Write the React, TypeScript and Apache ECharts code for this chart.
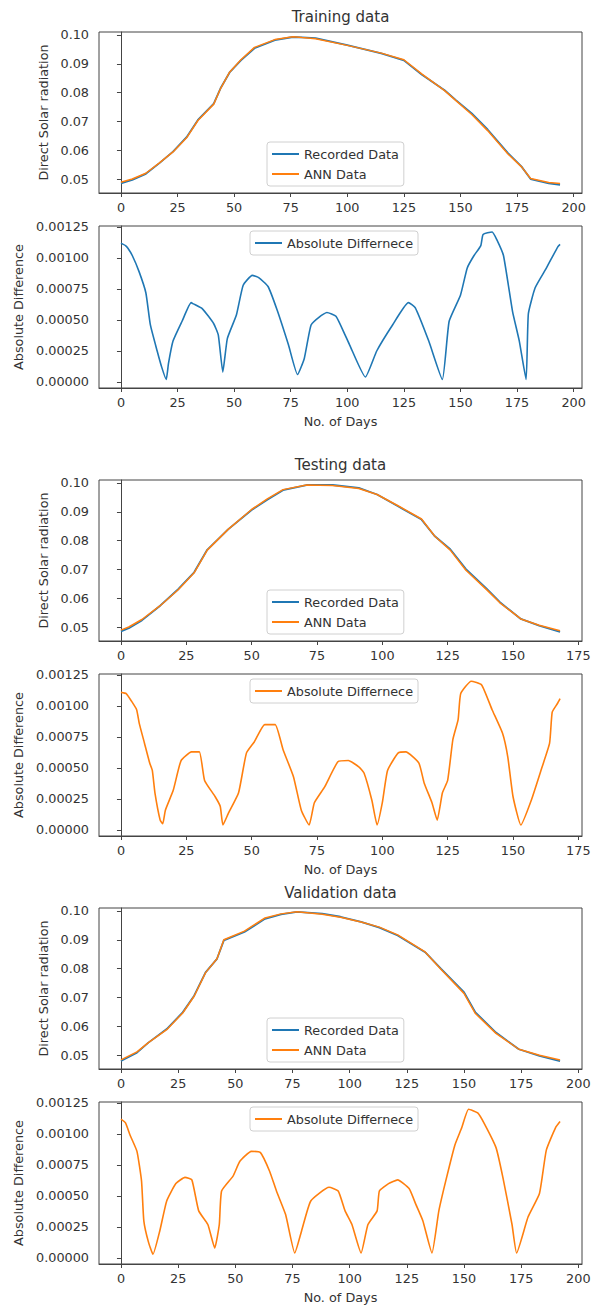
import React, { useEffect, useRef } from "react";
import * as echarts from "echarts";

const BLUE = "#1f77b4";
const ORANGE = "#ff7f0e";
const FONT = "DejaVu Sans";
const INK = "#333";
const FRAME = "#444";

// ---- tick labels ----
const dayTicks200 = [0, 25, 50, 75, 100, 125, 150, 175, 200];
const dayTicks175 = [0, 25, 50, 75, 100, 125, 150, 175];
const radiationTicks = [0.05, 0.06, 0.07, 0.08, 0.09, 0.1];
const diffTicks = [0, 0.00025, 0.0005, 0.00075, 0.001, 0.00125];

// ---- Training data ----
const trainDays = [0, 5, 11, 17, 23, 29, 34, 41, 44, 48, 53, 59, 68, 76, 80, 86, 100, 115, 125, 133, 143, 148, 155, 162, 171, 177, 181, 189, 194];
const trainRecorded = [0.0485, 0.0497, 0.0518, 0.0555, 0.0595, 0.0645, 0.0705, 0.0762, 0.0815, 0.087, 0.0912, 0.0954, 0.0982, 0.0993, 0.0992, 0.0989, 0.0965, 0.0936, 0.0912, 0.0862, 0.0808, 0.0774, 0.0728, 0.0672, 0.059, 0.0543, 0.05, 0.0485, 0.048];
const trainAnn = [0.0489, 0.05, 0.052, 0.0556, 0.0594, 0.0643, 0.0703, 0.076, 0.0814, 0.0871, 0.0914, 0.0957, 0.0984, 0.0994, 0.0991, 0.0987, 0.0964, 0.0937, 0.0914, 0.0864, 0.0807, 0.0772, 0.0724, 0.0668, 0.0587, 0.0542, 0.0502, 0.0488, 0.0484];
const trainDiffDays = [0, 2, 3, 5, 8, 11, 13, 16, 18, 20, 21, 23, 27, 31, 32, 36, 41, 43, 45, 47, 51, 54, 58, 61, 65, 69, 74, 78, 81, 84, 88, 91, 95, 99, 101, 108, 113, 120, 127, 130, 136, 142, 145, 150, 153, 156, 159, 160, 164, 166, 169, 173, 176, 179, 180, 183, 188, 193, 194];
const trainDiff = [0.00112, 0.0011, 0.00108, 0.00102, 0.00089, 0.00072, 0.00046, 0.00025, 0.00012, 0.00002, 0.00015, 0.00033, 0.00049, 0.00064, 0.00063, 0.00059, 0.00047, 0.00038, 0.00008, 0.00035, 0.00054, 0.00078, 0.00086, 0.00084, 0.00077, 0.00058, 0.0003, 0.00006, 0.00019, 0.00046, 0.00053, 0.00056, 0.00053, 0.00038, 0.0003, 0.00004, 0.00025, 0.00046, 0.00064, 0.0006, 0.00033, 0.00002, 0.00049, 0.0007, 0.00092, 0.00102, 0.0011, 0.00119, 0.00121, 0.00115, 0.00102, 0.00057, 0.00033, 0.00002, 0.00055, 0.00076, 0.00092, 0.00109, 0.00111];

// ---- Testing data ----
const testDays = [0, 3, 8, 15, 22, 28, 33, 41, 50, 56, 62, 71, 81, 91, 98, 106, 115, 120, 126, 132, 140, 145, 153, 160, 168];
const testRecorded = [0.0485, 0.0496, 0.0523, 0.0574, 0.0632, 0.069, 0.0768, 0.0839, 0.0906, 0.0942, 0.0975, 0.0993, 0.0993, 0.0983, 0.096, 0.0919, 0.0873, 0.0816, 0.077, 0.0701, 0.0632, 0.0586, 0.0528, 0.0505, 0.0483];
const testAnn = [0.0489, 0.05, 0.0526, 0.0574, 0.063, 0.0688, 0.0767, 0.0839, 0.0908, 0.0945, 0.0977, 0.0993, 0.0991, 0.0981, 0.096, 0.0921, 0.0875, 0.0816, 0.0767, 0.0697, 0.0629, 0.0584, 0.0528, 0.0506, 0.0487];
const testDiffDays = [0, 2, 4, 6, 7, 9, 11, 12, 13, 15, 16, 17, 20, 23, 27, 30, 32, 36, 38, 39, 41, 45, 48, 51, 55, 59, 62, 66, 69, 72, 74, 78, 83, 87, 91, 93, 96, 98, 100, 102, 106, 109, 114, 116, 119, 121, 123, 125, 127, 129, 130, 134, 138, 142, 146, 148, 150, 153, 157, 161, 164, 165, 167, 168];
const testDiff = [0.00111, 0.0011, 0.00104, 0.00097, 0.00086, 0.0007, 0.00054, 0.00048, 0.0003, 0.00008, 0.00005, 0.00016, 0.00032, 0.00056, 0.00063, 0.00063, 0.0004, 0.00027, 0.00019, 0.00004, 0.00013, 0.0003, 0.00062, 0.00071, 0.00085, 0.00085, 0.00065, 0.00043, 0.00016, 0.00004, 0.00022, 0.00035, 0.00055, 0.00056, 0.00051, 0.00046, 0.00024, 0.00004, 0.00022, 0.00048, 0.00062, 0.00063, 0.00054, 0.00038, 0.00022, 0.00008, 0.0003, 0.0004, 0.00073, 0.00089, 0.0011, 0.0012, 0.00117, 0.00097, 0.00078, 0.00059, 0.00027, 0.00004, 0.00024, 0.0005, 0.0007, 0.00095, 0.00102, 0.00106];

// ---- Validation data ----
const valDays = [0, 7, 12, 20, 27, 32, 37, 42, 45, 54, 63, 70, 77, 88, 96, 105, 113, 121, 133, 140, 150, 155, 164, 174, 183, 192];
const valRecorded = [0.0479, 0.0508, 0.0543, 0.059, 0.0648, 0.0706, 0.0787, 0.0834, 0.0898, 0.0927, 0.0973, 0.0988, 0.0997, 0.0991, 0.098, 0.0962, 0.0942, 0.0915, 0.0857, 0.0799, 0.0718, 0.0648, 0.0578, 0.052, 0.0497, 0.0479];
const valAnn = [0.0483, 0.0511, 0.0543, 0.0588, 0.0646, 0.0704, 0.0786, 0.0834, 0.09, 0.093, 0.0976, 0.099, 0.0997, 0.0989, 0.0978, 0.0962, 0.0944, 0.0917, 0.0858, 0.0797, 0.0714, 0.0644, 0.0575, 0.052, 0.0499, 0.0483];
const valDiffDays = [0, 2, 4, 7, 9, 10, 12, 14, 17, 20, 24, 28, 31, 34, 38, 41, 43, 44, 49, 52, 57, 61, 65, 68, 72, 76, 79, 83, 91, 95, 98, 101, 105, 108, 112, 113, 117, 121, 126, 129, 132, 136, 139, 142, 146, 149, 152, 156, 159, 164, 167, 171, 173, 178, 183, 186, 190, 192];
const valDiff = [0.00112, 0.00109, 0.00099, 0.00086, 0.00062, 0.0003, 0.00013, 0.00003, 0.00022, 0.00046, 0.0006, 0.00065, 0.00063, 0.00038, 0.00027, 0.00008, 0.00027, 0.00054, 0.00066, 0.00078, 0.00086, 0.00085, 0.0007, 0.00054, 0.00035, 0.00004, 0.00022, 0.00046, 0.00057, 0.00054, 0.00038, 0.00027, 0.00004, 0.00027, 0.00038, 0.00054, 0.0006, 0.00063, 0.00056, 0.00043, 0.0003, 0.00004, 0.00038, 0.00062, 0.00091, 0.00105, 0.0012, 0.00117, 0.00108, 0.00089, 0.00065, 0.00027, 0.00004, 0.00033, 0.00052, 0.00087, 0.00105, 0.0011];

const zip = (xs: number[], ys: number[]) => xs.map((x, i) => [x, ys[i]]);

type Panel = {
  title: string;
  offset: number;
  lastDay: number;
  dayTicks: number[];
  days: number[];
  recorded: number[];
  ann: number[];
  diffDays: number[];
  diff: number[];
  diffColor: string;
};

const panels: Panel[] = [
  { title: "Training data", offset: 0, lastDay: 194, dayTicks: dayTicks200, days: trainDays, recorded: trainRecorded, ann: trainAnn, diffDays: trainDiffDays, diff: trainDiff, diffColor: BLUE },
  { title: "Testing data", offset: 448, lastDay: 168, dayTicks: dayTicks175, days: testDays, recorded: testRecorded, ann: testAnn, diffDays: testDiffDays, diff: testDiff, diffColor: ORANGE },
  { title: "Validation data", offset: 876, lastDay: 192, dayTicks: dayTicks200, days: valDays, recorded: valRecorded, ann: valAnn, diffDays: valDiffDays, diff: valDiff, diffColor: ORANGE },
];

const PLOT_LEFT = 99;
const PLOT_W = 483;
const FS = 12.8;

function buildOption() {
  const grid: any[] = [];
  const xAxis: any[] = [];
  const yAxis: any[] = [];
  const series: any[] = [];
  const legend: any[] = [];
  const graphic: any[] = [];

  const baseText = { fontFamily: FONT, fontSize: FS, color: INK };
  const legendBase = {
    orient: "vertical",
    icon: "rect",
    itemWidth: 27,
    itemHeight: 2,
    itemGap: 6,
    itemTextGap: 10,
    padding: [5, 5],
    borderColor: "#d0d0d0",
    borderWidth: 1,
    borderRadius: 3,
    backgroundColor: "rgba(255,255,255,0.8)",
    selectedMode: false,
    textStyle: { ...baseText, lineHeight: 14 },
  };

  panels.forEach((p, k) => {
    const o = p.offset;
    const margin = 0.05 * p.lastDay;
    const xMin = -margin;
    const xMax = p.lastDay + margin;

    graphic.push({
      type: "text",
      x: PLOT_LEFT + PLOT_W / 2,
      y: o + 17,
      style: {
        text: p.title,
        fontFamily: FONT,
        fontSize: 15,
        fill: INK,
        align: "center",
        verticalAlign: "middle",
        textAlign: "center",
        textVerticalAlign: "middle",
      },
    });

    const gTop = k * 2;
    const gBot = k * 2 + 1;
    grid.push({ left: PLOT_LEFT, width: PLOT_W, top: o + 32, height: 161, show: true, borderColor: FRAME, borderWidth: 1 });
    grid.push({ left: PLOT_LEFT, width: PLOT_W, top: o + 226, height: 162, show: true, borderColor: FRAME, borderWidth: 1 });

    [gTop, gBot].forEach((gi, j) => {
      xAxis.push({
        type: "value",
        gridIndex: gi,
        min: xMin,
        max: xMax,
        axisLine: { show: true, onZero: false, lineStyle: { color: FRAME } },
        axisTick: { show: true, length: 4, customValues: p.dayTicks, lineStyle: { color: FRAME } },
        axisLabel: { ...baseText, margin: 8, customValues: p.dayTicks, formatter: (v: number) => String(v) },
        splitLine: { show: false },
        name: j === 1 ? "No. of Days" : "",
        nameLocation: "middle",
        nameGap: 27,
        nameTextStyle: { ...baseText },
      });
    });

    yAxis.push({
      type: "value",
      gridIndex: gTop,
      min: 0.04514,
      max: 0.10104,
      axisLine: { show: true, lineStyle: { color: FRAME } },
      axisTick: { show: true, length: 4, customValues: radiationTicks, lineStyle: { color: FRAME } },
      axisLabel: { ...baseText, margin: 10, customValues: radiationTicks, formatter: (v: number) => v.toFixed(2) },
      splitLine: { show: false },
      name: "Direct Solar radiation",
      nameLocation: "middle",
      nameGap: 44,
      nameRotate: 90,
      nameTextStyle: { ...baseText },
    });
    yAxis.push({
      type: "value",
      gridIndex: gBot,
      min: -0.0000484,
      max: 0.001258,
      axisLine: { show: true, lineStyle: { color: FRAME } },
      axisTick: { show: true, length: 4, customValues: diffTicks, lineStyle: { color: FRAME } },
      axisLabel: { ...baseText, margin: 10, customValues: diffTicks, formatter: (v: number) => v.toFixed(5) },
      splitLine: { show: false },
      name: "Absolute Difference",
      nameLocation: "middle",
      nameGap: 72,
      nameRotate: 90,
      nameTextStyle: { ...baseText },
    });

    series.push({
      type: "line",
      name: "Recorded Data",
      xAxisIndex: gTop,
      yAxisIndex: gTop,
      data: zip(p.days, p.recorded),
      showSymbol: false,
      symbol: "none",
      lineStyle: { color: BLUE, width: 1.8 },
      itemStyle: { color: BLUE },
      z: 2,
    });
    series.push({
      type: "line",
      name: "ANN Data",
      xAxisIndex: gTop,
      yAxisIndex: gTop,
      data: zip(p.days, p.ann),
      showSymbol: false,
      symbol: "none",
      lineStyle: { color: ORANGE, width: 1.5 },
      itemStyle: { color: ORANGE },
      z: 3,
    });
    series.push({
      type: "line",
      name: "Absolute Differnece",
      xAxisIndex: gBot,
      yAxisIndex: gBot,
      data: zip(p.diffDays, p.diff),
      showSymbol: false,
      symbol: "none",
      smooth: 0.15,
      lineStyle: { color: p.diffColor, width: 1.6 },
      itemStyle: { color: p.diffColor },
      z: 2,
    });

    legend.push({
      ...legendBase,
      left: 267,
      top: o + 142,
      data: [
        { name: "Recorded Data", itemStyle: { color: BLUE } },
        { name: "ANN Data", itemStyle: { color: ORANGE } },
      ],
    });
    legend.push({
      ...legendBase,
      left: 250,
      top: o + 231,
      data: [{ name: "Absolute Differnece", itemStyle: { color: p.diffColor } }],
    });
  });

  return {
    animation: false,
    backgroundColor: "#ffffff",
    grid,
    xAxis,
    yAxis,
    series,
    legend,
    graphic,
  };
}

export default function App() {
  const ref = useRef<HTMLDivElement | null>(null);
  useEffect(() => {
    if (!ref.current) return;
    const chart = echarts.init(ref.current, undefined, { renderer: "svg" });
    chart.setOption(buildOption() as any);
    return () => chart.dispose();
  }, []);
  return (
    <div
      ref={ref}
      style={{ position: "absolute", left: 0, top: 0, width: 596, height: 1314, background: "#fff" }}
    />
  );
}
